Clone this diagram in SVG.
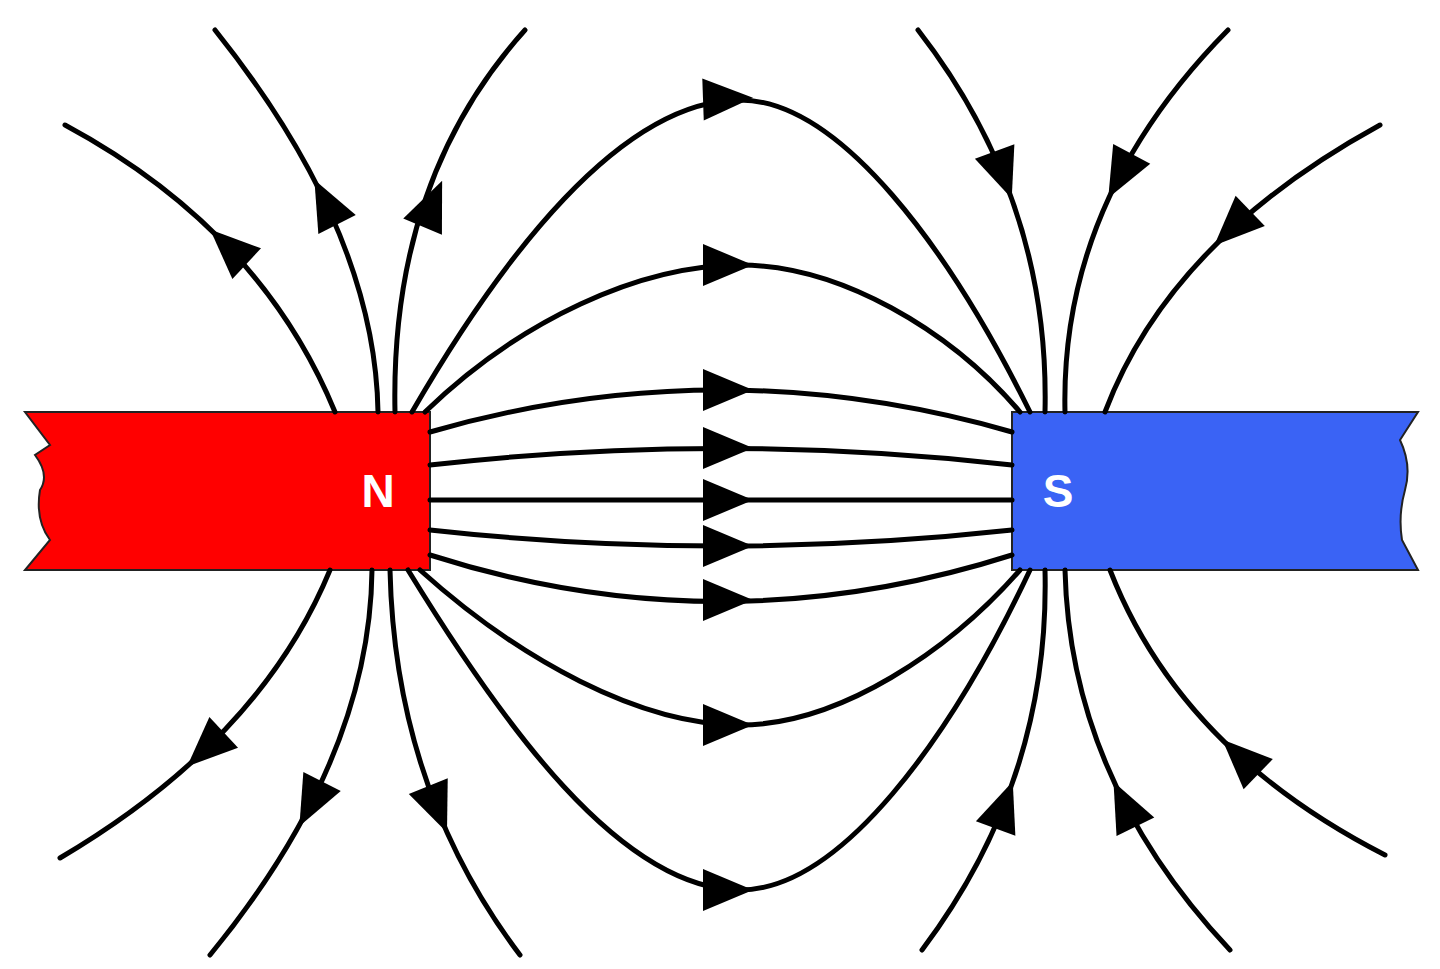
<svg xmlns="http://www.w3.org/2000/svg" width="1440" height="969" viewBox="0 0 1440 969">
<style>
.f{fill:none;stroke:#000;stroke-width:5;stroke-linecap:round}
.lbl{font-family:"Liberation Sans",Arial,sans-serif;font-weight:bold;font-size:46px;fill:#fff}
</style>
<defs><path id="a" d="M8,0 L-42,-21 L-42,21 Z" fill="#000"/></defs>
<rect width="1440" height="969" fill="#fff"/>
<g id="north">
<path d="M25,412 L430,412 L430,570 L25,570 L50,540 Q35,520 40,490 Q50,475 35,455 L50,445 Z" fill="#f00" stroke="#222" stroke-width="2"/>
<text class="lbl" x="378" y="507" text-anchor="middle">N</text>
</g>
<g id="south">
<path d="M1012,412 L1418,412 L1400,440 Q1412,465 1405,490 Q1398,515 1402,540 L1418,570 L1012,570 Z" fill="#3a63f5" stroke="#222" stroke-width="2"/>
<text class="lbl" x="1058" y="507" text-anchor="middle">S</text>
</g>
<g id="connectors">
<path class="f" d="M412,412 C500,260 620,100 740,100 C840,100 950,250 1030,412"/>
<path class="f" d="M425,412 C520,320 640,265 740,265 C840,265 950,330 1020,412"/>
<path class="f" d="M430,432 Q720,348 1012,432"/>
<path class="f" d="M430,465 Q720,432 1012,465"/>
<path class="f" d="M430,500 L1012,500"/>
<path class="f" d="M430,530 Q720,562 1012,530"/>
<path class="f" d="M430,555 Q720,648 1012,555"/>
<path class="f" d="M420,570 C520,660 640,725 740,725 C840,725 950,650 1020,570"/>
<path class="f" d="M408,570 C500,720 620,890 740,890 C840,890 950,740 1030,570"/>
<path class="f" d="M335,412 Q260,230 65,125"/>
<path class="f" d="M378,412 Q375,230 215,30"/>
<path class="f" d="M395,412 Q390,180 525,30"/>
<path class="f" d="M330,570 Q260,740 60,858"/>
<path class="f" d="M372,570 Q370,760 210,955"/>
<path class="f" d="M390,570 Q395,790 520,955"/>
<path class="f" d="M1045,412 Q1050,200 918,30"/>
<path class="f" d="M1065,412 Q1060,200 1228,30"/>
<path class="f" d="M1105,412 Q1170,240 1380,125"/>
<path class="f" d="M1045,570 Q1050,780 922,950"/>
<path class="f" d="M1065,570 Q1070,780 1230,950"/>
<path class="f" d="M1110,570 Q1180,750 1385,855"/>
<use href="#a" transform="translate(745,98) rotate(-2)"/>
<use href="#a" transform="translate(745,265)"/>
<use href="#a" transform="translate(745,390)"/>
<use href="#a" transform="translate(745,448)"/>
<use href="#a" transform="translate(745,500)"/>
<use href="#a" transform="translate(745,546)"/>
<use href="#a" transform="translate(745,600)"/>
<use href="#a" transform="translate(745,725)"/>
<use href="#a" transform="translate(745,890)"/>
<use href="#a" transform="translate(216,235) rotate(-137)"/>
<use href="#a" transform="translate(318,187) rotate(-117)"/>
<use href="#a" transform="translate(439,188) rotate(-67)"/>
<use href="#a" transform="translate(193,761) rotate(137)"/>
<use href="#a" transform="translate(303,819) rotate(117)"/>
<use href="#a" transform="translate(444,825) rotate(68)"/>
<use href="#a" transform="translate(1009,191) rotate(70)"/>
<use href="#a" transform="translate(1112,191) rotate(118)"/>
<use href="#a" transform="translate(1220,240) rotate(136)"/>
<use href="#a" transform="translate(1010,789) rotate(-70)"/>
<use href="#a" transform="translate(1117,789) rotate(-116)"/>
<use href="#a" transform="translate(1228,745) rotate(-136)"/>
</g>
</svg>
